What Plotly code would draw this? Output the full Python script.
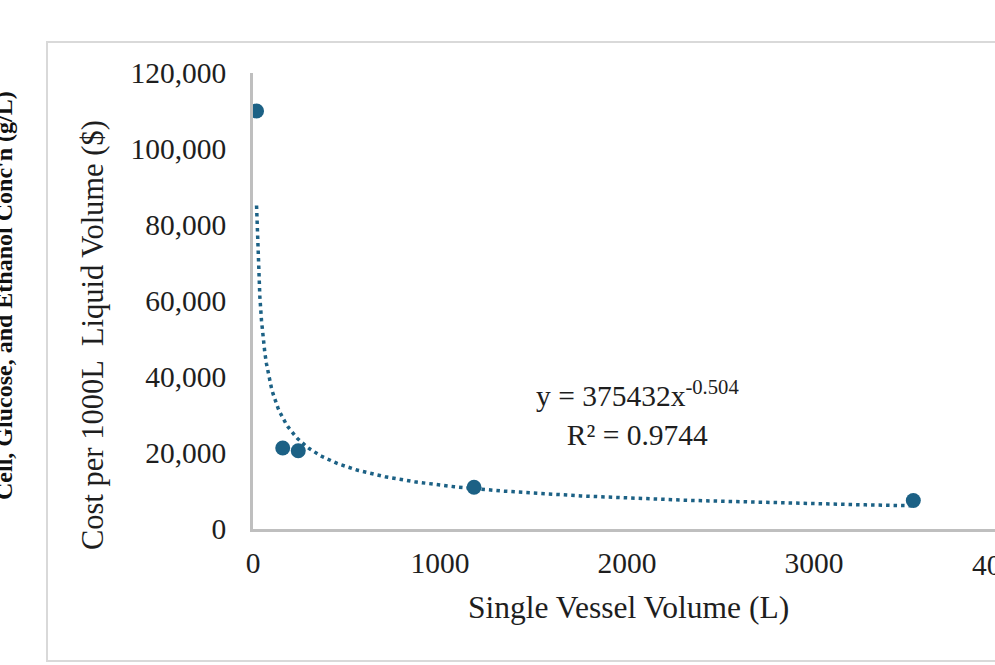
import numpy as np
import plotly.graph_objects as go

# Vessel size vs. cost data
vessel_volume_l = [19, 159, 242, 1182, 3531]
cost_per_1000l = [110000, 21300, 20600, 11000, 7500]

# Power-law trendline as reported
fit_a = 375432
fit_b = -0.504
fit_r2 = 0.9744

y_ticks = [0, 20000, 40000, 60000, 80000, 100000, 120000]
x_ticks = [0, 1000, 2000, 3000, 4000]

W, H = 995, 665
L_PX, R_PX, T_PX, B_PX = 253, 995, 73, 529
X_SCALE = 0.187  # pixels per litre

def px_x(p):
    return (p - L_PX) / (R_PX - L_PX)

def px_y(p):
    return (B_PX - p) / (B_PX - T_PX)

SERIF = "Times New Roman, Liberation Serif, serif"
TEXT = "#1e1e1e"
TEAL = "#1c6185"
AXIS = "#bfbfbf"

x_fit = np.linspace(min(vessel_volume_l), max(vessel_volume_l), 400)
y_fit = fit_a * x_fit ** fit_b

fig = go.Figure()
fig.add_trace(go.Scatter(
    x=x_fit, y=y_fit, mode="lines",
    line=dict(color=TEAL, width=3.5, dash="3.5px,4px"),
    hoverinfo="skip", showlegend=False,
))
fig.add_trace(go.Scatter(
    x=vessel_volume_l, y=cost_per_1000l, mode="markers",
    marker=dict(color=TEAL, size=15, line=dict(width=0)),
    showlegend=False,
))

x_max = (R_PX - L_PX) / X_SCALE
last_tick_px = L_PX + x_ticks[-1] * X_SCALE

fig.update_layout(
    width=W, height=H,
    margin=dict(l=L_PX, r=W - R_PX, t=T_PX, b=H - B_PX, pad=0),
    paper_bgcolor="white", plot_bgcolor="white",
    font=dict(family=SERIF, color=TEXT),
    xaxis=dict(
        range=[0, x_max], tickvals=x_ticks[:-1], ticktext=[str(v) for v in x_ticks[:-1]],
        showgrid=False, zeroline=False, showline=True, linecolor=AXIS, linewidth=2.5,
        ticks="", tickfont=dict(size=29.5, family=SERIF, color=TEXT),
        ticklabelstandoff=6,
    ),
    yaxis=dict(
        range=[0, 120000], tickvals=y_ticks, tickformat=",d",
        showgrid=False, zeroline=False, showline=True, linecolor=AXIS, linewidth=2.5,
        ticks="", tickfont=dict(size=29.5, family=SERIF, color=TEXT),
        ticklabelstandoff=18,
    ),
    shapes=[dict(
        type="rect", xref="paper", yref="paper",
        x0=px_x(47), x1=px_x(1040), y0=px_y(661), y1=px_y(42),
        line=dict(color="#d9d9d9", width=2), fillcolor="rgba(0,0,0,0)", layer="below",
    )],
    annotations=[
        # last x tick label sits at the right edge of the canvas
        dict(x=px_x(last_tick_px), y=px_y(565), xref="paper", yref="paper",
             text=str(x_ticks[-1]), showarrow=False, xanchor="center", yanchor="middle",
             font=dict(size=29.5, family=SERIF, color=TEXT)),
        dict(x=px_x(628), y=px_y(607), xref="paper", yref="paper",
             text="Single Vessel Volume (L)", showarrow=False,
             xanchor="center", yanchor="middle",
             font=dict(size=31.5, family=SERIF, color=TEXT)),
        dict(x=px_x(93), y=px_y(335), xref="paper", yref="paper",
             text="Cost per 1000L  Liquid Volume ($)", showarrow=False, textangle=-90,
             xanchor="center", yanchor="middle",
             font=dict(size=30.5, family=SERIF, color=TEXT)),
        dict(x=px_x(4), y=px_y(295), xref="paper", yref="paper",
             text="<b>Cell, Glucose, and Ethanol Conc'n (g/L)</b>", showarrow=False,
             textangle=-90, xanchor="center", yanchor="middle",
             font=dict(size=24, family=SERIF, color="#111111")),
        dict(x=px_x(637), y=px_y(413), xref="paper", yref="paper",
             text=f"y = {fit_a}x<sup>{fit_b}</sup><br>R² = {fit_r2}",
             showarrow=False, xanchor="center", yanchor="middle", align="center",
             font=dict(size=29.5, family=SERIF, color=TEXT)),
    ],
)

fig.write_html("out.html")
